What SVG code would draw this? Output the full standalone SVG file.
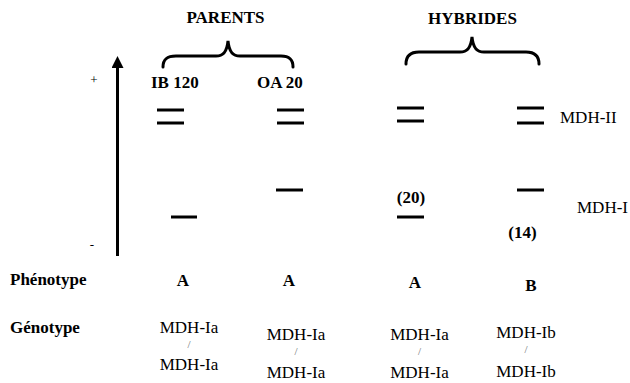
<svg xmlns="http://www.w3.org/2000/svg" width="630" height="383" viewBox="0 0 630 383" font-family="'Liberation Serif', 'DejaVu Serif', serif">
  <style>
    text { font-family: "Liberation Serif", "DejaVu Serif", serif; fill: #000; }
    .b { font-weight: bold; font-size: 17px; }
    .r { font-size: 17px; }
    .sign { font-size: 13px; text-anchor: middle; }
    .c { text-anchor: middle; }
    .slash { font-size: 11px; fill: #6e6e6e; text-anchor: middle; }
    .band { stroke: #000; stroke-width: 3; fill: none; }
    .brace { stroke: #000; stroke-width: 3; fill: none; stroke-linecap: round; }
    .axis { stroke: #000; stroke-width: 3; fill: none; }
  </style>
  <defs>
    <marker id="arrowhead" markerWidth="4" markerHeight="4" refX="0" refY="2" orient="auto" markerUnits="strokeWidth">
      <path d="M0,0 L4,2 L0,4 Z" fill="#000"/>
    </marker>
  </defs>

  <!-- migration axis -->
  <g id="axis">
    <line class="axis" x1="117.5" y1="256" x2="117.5" y2="68" marker-end="url(#arrowhead)"/>
    <text class="sign" x="94" y="83.5">+</text>
    <text class="sign" x="92" y="249">-</text>
  </g>

  <!-- group headings with braces -->
  <g id="parents">
    <text class="b c" x="225.5" y="22.5">PARENTS</text>
    <path class="brace" d="M163,67 C163,59 167,56 176,56 L216,56 C223,56 227,52 228,41 C229,52 233,56 240,56 L281,56 C289,56 293,59 293,67"/>
  </g>
  <g id="hybrides">
    <text class="b c" x="472.5" y="23.5">HYBRIDES</text>
    <path class="brace" d="M406,64 C406,56 410,52 419,52 L460,52 C467,52 471,48 472,37 C473,48 477,52 484,52 L526,52 C535,52 539,56 539,64"/>
  </g>

  <!-- lane IB 120 -->
  <g id="lane-ib120">
    <text class="b" x="151" y="87.5">IB 120</text>
    <line class="band" x1="157" y1="110" x2="184" y2="110"/>
    <line class="band" x1="157" y1="123" x2="184" y2="123"/>
    <line class="band" x1="171" y1="217" x2="197" y2="217"/>
    <text class="b c" x="183" y="286">A</text>
    <text class="r c" x="189" y="333">MDH-Ia</text>
    <text class="slash" x="189" y="348">/</text>
    <text class="r c" x="189" y="370">MDH-Ia</text>
  </g>

  <!-- lane OA 20 -->
  <g id="lane-oa20">
    <text class="b" x="257" y="87.5">OA 20</text>
    <line class="band" x1="277" y1="110" x2="304" y2="110"/>
    <line class="band" x1="277" y1="123" x2="304" y2="123"/>
    <line class="band" x1="276" y1="190" x2="303" y2="190"/>
    <text class="b c" x="289" y="286">A</text>
    <text class="r c" x="296" y="340">MDH-Ia</text>
    <text class="slash" x="296" y="355">/</text>
    <text class="r c" x="296" y="378">MDH-Ia</text>
  </g>

  <!-- hybrid lane A -->
  <g id="lane-hybrid-a">
    <line class="band" x1="397" y1="108" x2="424" y2="108"/>
    <line class="band" x1="397" y1="121" x2="424" y2="121"/>
    <text class="b c" x="411" y="203">(20)</text>
    <line class="band" x1="397" y1="217" x2="424" y2="217"/>
    <text class="b c" x="415" y="288">A</text>
    <text class="r c" x="419.5" y="340">MDH-Ia</text>
    <text class="slash" x="419.5" y="355">/</text>
    <text class="r c" x="419.5" y="378">MDH-Ia</text>
  </g>

  <!-- hybrid lane B -->
  <g id="lane-hybrid-b">
    <line class="band" x1="517" y1="108" x2="544" y2="108"/>
    <line class="band" x1="517" y1="123" x2="544" y2="123"/>
    <line class="band" x1="517" y1="190" x2="544" y2="190"/>
    <text class="b c" x="522.5" y="238">(14)</text>
    <text class="b c" x="531" y="291">B</text>
    <text class="r c" x="526" y="338">MDH-Ib</text>
    <text class="slash" x="526" y="353">/</text>
    <text class="r c" x="526" y="377">MDH-Ib</text>
  </g>

  <!-- isozyme zone labels -->
  <g id="zones">
    <text class="r" x="560" y="123">MDH-II</text>
    <text class="r" x="577" y="213">MDH-I</text>
  </g>

  <!-- row headings -->
  <g id="rows">
    <text class="b" x="10" y="285">Phénotype</text>
    <text class="b" x="10" y="333">Génotype</text>
  </g>
</svg>
